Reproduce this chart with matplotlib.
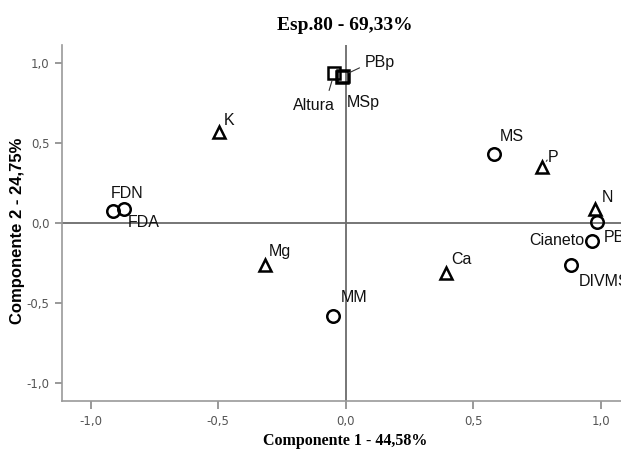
import matplotlib.pyplot as plt

# loadings of each variable on the two components
names = ['Altura', 'MSp', 'PBp', 'K', 'FDN', 'FDA', 'Mg', 'MM', 'Ca',
         'MS', 'P', 'N', 'PB', 'Cianeto', 'DIVMS']
comp1 = [-0.045, -0.015, -0.012, -0.496, -0.912, -0.869, -0.316, -0.049, 0.394,
         0.582, 0.771, 0.980, 0.986, 0.967, 0.882]
comp2 = [0.935, 0.915, 0.920, 0.570, 0.075, 0.088, -0.260, -0.580, -0.310,
         0.430, 0.350, 0.085, 0.005, -0.110, -0.260]
kind = ['s', 's', 's', '^', 'o', 'o', '^', 'o', '^',
        'o', '^', '^', 'o', 'o', 'o']

# label placement (offset in pixels, alignment)
label_pos = {
    'Altura': (1, -32, 'right'), 'MSp': (5, -26, 'left'), 'PBp': (22, 13, 'left'),
    'K': (5, 11, 'left'), 'FDN': (-2, 18, 'left'), 'FDA': (4, -14, 'left'),
    'Mg': (4, 13, 'left'), 'MM': (8, 18, 'left'), 'Ca': (5, 13, 'left'),
    'MS': (6, 18, 'left'), 'P': (6, 10, 'left'), 'N': (6, 12, 'left'),
    'PB': (7, -15, 'left'), 'Cianeto': (-8, 0, 'right'), 'DIVMS': (8, -17, 'left'),
}
leaders = {'PBp': (17, 8), 'Altura': (-5, -17), 'P': (5, 7)}

fig = plt.figure(figsize=(6.21, 4.51), dpi=100)
ax = fig.add_axes([62 / 621, 50 / 451, 1 - 62 / 621, 356 / 451])

ax.axhline(0, color='#6b6b6b', lw=1.3, zorder=1)
ax.axvline(0, color='#6b6b6b', lw=1.3, zorder=1)

for n, x, y, m in zip(names, comp1, comp2, kind):
    ms = 9 if m == 'o' else 8.5
    ax.plot(x, y, m, ms=ms, mfc='none', mec='black', mew=1.8, zorder=3)
    dx, dy, ha = label_pos[n]
    ax.annotate(n, (x, y), xytext=(dx, dy), textcoords='offset pixels',
                ha=ha, va='center', fontsize=11.5, family='Liberation Sans',
                color='#111111', annotation_clip=False)
    if n in leaders:
        lx, ly = leaders[n]
        ax.annotate('', (x, y), xytext=(lx, ly), textcoords='offset pixels',
                    arrowprops=dict(arrowstyle='-', color='#333333', lw=0.8,
                                    shrinkA=0, shrinkB=5))

ax.set_xlim(-1.112, 1.08)
ax.set_ylim(-1.113, 1.113)
ax.set_xticks([-1.0, -0.5, 0.0, 0.5, 1.0])
ax.set_yticks([-1.0, -0.5, 0.0, 0.5, 1.0])
ax.set_xticklabels(['-1,0', '-0,5', '0,0', '0,5', '1,0'])
ax.set_yticklabels(['-1,0', '-0,5', '0,0', '0,5', '1,0'])
ax.tick_params(colors='#888888', labelcolor='#555555', labelsize=8.5,
               length=5, width=1.2, direction='out', pad=4)
ax.tick_params(axis='x', length=6)
for s in ['top', 'right']:
    ax.spines[s].set_visible(False)
for s in ['left', 'bottom']:
    ax.spines[s].set_color('#999999')
    ax.spines[s].set_linewidth(1.2)

ax.set_xlabel('Componente 1 - 44,58%', family='Liberation Serif',
              fontweight='bold', fontsize=11.5)
ax.xaxis.set_label_coords((345 - 62) / 559, -40 / 356)
ax.xaxis.label.set_va('center')
ax.set_ylabel('Componente 2 - 24,75%', family='Liberation Sans',
              fontweight='bold', fontsize=12)
ax.yaxis.set_label_coords(-44 / 559, (401 - 231) / 356)
ax.yaxis.label.set_va('center')
fig.text(345 / 621, 1 - 25 / 451, 'Esp.80 - 69,33%', family='Liberation Serif',
         fontweight='bold', fontsize=14, ha='center', va='center')

fig.savefig('out.png', dpi=100)
